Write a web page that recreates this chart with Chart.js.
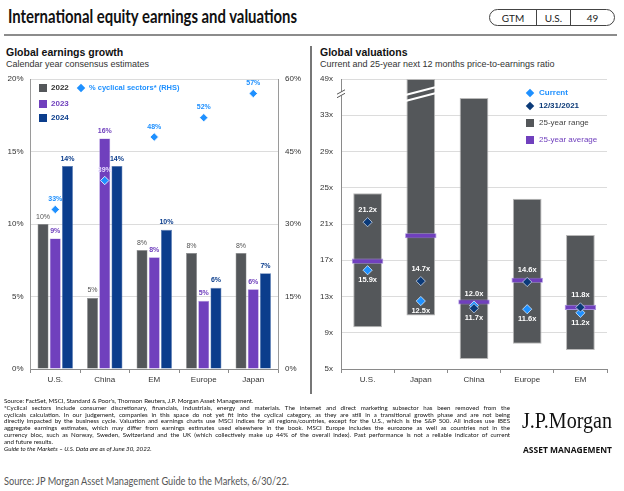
<!DOCTYPE html>
<html><head><meta charset="utf-8">
<script src="https://cdn.jsdelivr.net/npm/chart.js@4.4.0/dist/chart.umd.min.js"></script>
<style>
html,body{margin:0;padding:0;background:#fff;}
body{width:624px;height:491px;position:relative;overflow:hidden;font-family:"Liberation Sans",Arial,sans-serif;}
.abs{position:absolute;white-space:nowrap;}
.fit{display:inline-block;transform-origin:0 50%;}
.sq{position:absolute;width:8px;height:8px;}
.dia{position:absolute;width:6px;height:6px;transform:rotate(45deg);}
.lg{position:absolute;white-space:nowrap;font-size:8px;font-weight:bold;line-height:10px;}
#pill{position:absolute;left:489px;top:9px;width:126px;height:17px;border:1px solid #444;border-radius:10px;display:flex;font-family:Lato,sans-serif;font-size:10px;color:#222;box-sizing:border-box;}
#pill div{display:flex;align-items:center;justify-content:center;height:100%;}
.fn{position:absolute;left:4px;white-space:nowrap;font-family:Lato,sans-serif;color:#111;line-height:7px;transform-origin:0 50%;}
canvas{position:absolute;}
</style></head><body>

<div class="abs" style="left:8px;top:5px;"><span id="title" class="fit" style="font-family:Lato,sans-serif;font-weight:bold;font-size:19px;color:#111;line-height:22px;">International equity earnings and valuations</span></div>
<div id="pill"><div style="width:46px;border-right:1px solid #444;">GTM</div><div style="width:33px;border-right:1px solid #444;">U.S.</div><div style="flex:1;">49</div></div>
<div class="abs" style="left:4px;top:34px;width:613px;height:2px;background:#8c8c8c;"></div>

<div class="abs" style="left:6px;top:46px;font-size:10.5px;font-weight:bold;color:#111;">Global earnings growth</div>
<div class="abs" style="left:6px;top:59px;font-size:9px;color:#333;">Calendar year consensus estimates</div>
<div class="abs" style="left:320px;top:46px;font-size:10.5px;font-weight:bold;color:#111;">Global valuations</div>
<div class="abs" style="left:320px;top:59px;font-size:9px;color:#333;">Current and 25-year next 12 months price-to-earnings ratio</div>
<div class="abs" style="left:310px;top:46px;width:1.5px;height:348px;background:#777;"></div>

<canvas id="left" width="310" height="340" style="left:0;top:60px;"></canvas>
<canvas id="right" width="312" height="340" style="left:312px;top:60px;"></canvas>

<!-- left legend -->
<div class="sq" style="left:39px;top:84px;background:#54575a;"></div>
<div class="lg" style="left:51px;top:83px;color:#333;">2022</div>
<div class="sq" style="left:39px;top:100px;background:#7040bd;"></div>
<div class="lg" style="left:51px;top:99px;color:#7040bd;">2023</div>
<div class="sq" style="left:39px;top:114px;background:#0b3d8c;"></div>
<div class="lg" style="left:51px;top:113px;color:#0b3d8c;">2024</div>
<div class="dia" style="left:77.5px;top:85px;background:#1e90ff;"></div>
<div class="lg" style="left:89px;top:83px;color:#1e90ff;font-size:7.5px;">% cyclical sectors* (RHS)</div>

<!-- right legend -->
<div class="dia" style="left:526.5px;top:89.5px;background:#1e90ff;"></div>
<div class="lg" style="left:539px;top:87.5px;color:#1e90ff;">Current</div>
<div class="dia" style="left:526.5px;top:103px;background:#0b3a78;"></div>
<div class="lg" style="left:539px;top:101px;color:#0b3a78;">12/31/2021</div>
<div class="sq" style="left:526px;top:119px;background:#54575a;"></div>
<div class="lg" style="left:539px;top:118px;color:#444;font-weight:normal;">25-year range</div>
<div class="sq" style="left:526px;top:136px;background:#7040bd;"></div>
<div class="lg" style="left:539px;top:135px;color:#7040bd;font-weight:normal;">25-year average</div>

<!-- footnotes -->
<div id="fnbox"></div>
<div class="abs" style="left:522px;top:408px;"><span id="jpm" class="fit" style="font-family:'Liberation Serif',serif;font-size:23px;color:#111;line-height:25px;">J.P.Morgan</span></div>
<div class="abs" style="left:523px;top:439px;"><span id="am" class="fit" style="font-family:'Open Sans',sans-serif;font-weight:700;font-size:9.5px;color:#111;line-height:11px;">ASSET MANAGEMENT</span></div>
<div class="abs" style="left:4px;top:471px;"><span id="src" class="fit" style="font-family:Lato,sans-serif;font-size:10.5px;color:#555;line-height:12px;">Source: JP Morgan Asset Management Guide to the Markets, 6/30/22.</span></div>

<script>
// ---------------- DATA ----------------
const regions = ['U.S.', 'China', 'EM', 'Europe', 'Japan'];
const eps2022 = [10.0, 4.9, 8.2, 8.0, 8.0];
const eps2023 = [9.0, 15.9, 7.7, 4.7, 5.5];
const eps2024 = [14.0, 14.0, 9.6, 5.6, 6.6];
const cyclicalPct = [33, 39, 48, 52, 57];
const lhsTicks = [0, 5, 10, 15, 20];
const rhsTicks = [0, 15, 30, 45, 60];

const valRegions = ['U.S.', 'Japan', 'China', 'Europe', 'EM'];
const rangeLow = [9.6, 10.9, 6.1, 7.8, 7.1];
const rangeHigh = [24.4, 49, 34.9, 23.8, 19.8];
const avg25 = [16.9, 19.7, 12.4, 14.8, 11.8];
const currentPE = [15.9, 12.5, 12.0, 11.6, 11.2];
const dec2021PE = [21.2, 14.7, 11.7, 14.6, 11.8];
const peTicks = [5, 9, 13, 17, 21, 25, 29, 33, 37];
const peTickLabels = ['5x', '9x', '13x', '17x', '21x', '25x', '29x', '33x', '49x'];
const peAxisTop = 37;      // axis break: top gridline stands for 49x
const dec2021LabelPos = ['above', 'above', 'below', 'above', 'above'];
const currentLabelPos = ['below', 'below', 'above', 'below', 'below'];

const footnotes = [
  "Source: FactSet, MSCI, Standard & Poor's, Thomson Reuters, J.P. Morgan Asset Management.",
  "*Cyclical sectors include consumer discretionary, financials, industrials, energy and materials. The internet and direct marketing subsector has been removed from the",
  "cyclicals calculation. In our judgement, companies in this space do not yet fit into the cyclical category, as they are still in a transitional growth phase and are not being",
  "directly impacted by the business cycle. Valuation and earnings charts use MSCI indices for all regions/countries, except for the U.S., which is the S&P 500. All indices use IBES",
  "aggregate earnings estimates, which may differ from earnings estimates used elsewhere in the book. MSCI Europe includes the eurozone as well as countries not in the",
  "currency bloc, such as Norway, Sweden, Switzerland and the UK (which collectively make up 44% of the overall index). Past performance is not a reliable indicator of current",
  "and future results.",
  "Guide to the Markets \u2013 U.S. Data are as of June 30, 2022."
];

// ---------------- COLOURS ----------------
const C22 = '#54575a', C23 = '#7040bd', C24 = '#0b3d8c', CLB = '#1e90ff', CNAVY = '#0b3a78';
const FONT = '"Liberation Sans", Arial, sans-serif';

function labelPlugin(id, specs) {
  return {
    id,
    afterDatasetsDraw(chart) {
      const ctx = chart.ctx;
      specs.forEach(s => {
        const meta = chart.getDatasetMeta(s.ds);
        const data = chart.data.datasets[s.ds].data;
        meta.data.forEach((el, j) => {
          const v = data[j];
          ctx.save();
          ctx.font = s.font;
          ctx.fillStyle = Array.isArray(s.color) ? s.color[j] : s.color;
          ctx.textAlign = 'center';
          ctx.textBaseline = s.baseline || 'alphabetic';
          const dy = typeof s.dy === 'function' ? s.dy(j) : s.dy;
          ctx.fillText(s.text(v), el.x, el.y + dy);
          ctx.restore();
        });
      });
    }
  };
}

// ---------------- LEFT CHART ----------------
const pct = v => Math.round(v) + '%';
new Chart(document.getElementById('left'), {
  type: 'bar',
  data: {
    labels: regions,
    datasets: [
      { label: '2022', data: eps2022, backgroundColor: C22, borderColor: '#8a8c8e', borderWidth: 0.6, order: 1, yAxisID: 'y' },
      { label: '2023', data: eps2023, backgroundColor: C23, borderColor: '#a788dc', borderWidth: 0.6, order: 1, yAxisID: 'y' },
      { label: '2024', data: eps2024, backgroundColor: C24, borderColor: '#5577b0', borderWidth: 0.6, order: 1, yAxisID: 'y' },
      { type: 'line', label: '% cyclical sectors* (RHS)', data: cyclicalPct, yAxisID: 'y1', showLine: false,
        pointStyle: 'rectRot', pointRadius: 4.2, pointBackgroundColor: CLB, pointBorderColor: '#ffffff', pointBorderWidth: 0.8, order: 0 }
    ]
  },
  options: {
    responsive: false, animation: false, devicePixelRatio: 1,
    layout: { padding: { top: 19, left: 0.5, right: 0, bottom: 0 } },
    datasets: { bar: { categoryPercentage: 0.74, barPercentage: 0.9 } },
    plugins: { legend: { display: false }, tooltip: { enabled: false } },
    scales: {
      x: {
        grid: { display: true, drawOnChartArea: false, drawTicks: true, tickLength: 4, color: '#8a8a8a', offset: true },
        border: { display: true, color: '#8a8a8a', width: 1 },
        ticks: { font: { family: FONT, size: 8 }, color: '#333', padding: 2, autoSkip: false, maxRotation: 0 },
        afterFit: s => { s.height = 31; }
      },
      y: {
        position: 'left', min: 0, max: 20,
        afterBuildTicks: s => { s.ticks = lhsTicks.map(v => ({ value: v })); },
        grid: { color: '#dcdcdc', drawTicks: false },
        border: { display: true, color: '#9a9a9a', width: 1 },
        ticks: { font: { family: FONT, size: 8 }, color: '#333', padding: 7, callback: v => v + '%' },
        afterFit: s => { s.width = 30; }
      },
      y1: {
        position: 'right', min: 0, max: 60,
        afterBuildTicks: s => { s.ticks = rhsTicks.map(v => ({ value: v })); },
        grid: { drawOnChartArea: false, drawTicks: false },
        border: { display: true, color: '#9a9a9a', width: 1 },
        ticks: { font: { family: FONT, size: 8 }, color: '#333', padding: 7, callback: v => v + '%' },
        afterFit: s => { s.width = 32; }
      }
    }
  },
  plugins: [labelPlugin('lblLeft', [
    { ds: 0, text: pct, font: 'normal 7px ' + FONT, color: '#555', dy: -5.5 },
    { ds: 1, text: pct, font: 'bold 7px ' + FONT, color: C23, dy: -5.5 },
    { ds: 2, text: pct, font: 'bold 7px ' + FONT, color: C24, dy: -5.5 },
    { ds: 3, text: v => v + '%', font: 'bold 7px ' + FONT, color: [CLB, '#e6dcff', CLB, CLB, CLB], dy: -8.5 }
  ])]
});

// ---------------- RIGHT CHART ----------------
const onAxis = v => Math.min(v, peAxisTop);
const xfmt = v => v.toFixed(1) + 'x';
const breakPlugin = {
  id: 'axisBreak',
  afterDatasetsDraw(chart) {
    const ctx = chart.ctx, ys = chart.scales.y;
    const yb = ys.getPixelForValue(35.4);
    const bar = chart.getDatasetMeta(2).data[1];
    const x0 = bar.x - bar.width / 2, x1 = bar.x + bar.width / 2;
    ctx.save();
    ctx.strokeStyle = '#ffffff'; ctx.lineWidth = 2;
    [[1.5, -6.5], [7.5, -0.5]].forEach(([a, b]) => {
      ctx.beginPath(); ctx.moveTo(x0 - 1, yb + a); ctx.lineTo(x1 + 1, yb + b); ctx.stroke();
    });
    const ax = ys.right;
    ctx.fillStyle = '#ffffff';
    ctx.fillRect(ax - 2, yb - 2, 4, 4);
    ctx.strokeStyle = '#555'; ctx.lineWidth = 1;
    [[-1.5], [2]].forEach(([o]) => {
      ctx.beginPath(); ctx.moveTo(ax - 4, yb + o + 2.2); ctx.lineTo(ax + 4, yb + o - 2.2); ctx.stroke();
    });
    ctx.restore();
  }
};

new Chart(document.getElementById('right'), {
  type: 'bar',
  data: {
    labels: valRegions,
    datasets: [
      { type: 'line', label: '12/31/2021', data: dec2021PE, showLine: false, pointStyle: 'rectRot', pointRadius: 4.6,
        pointBackgroundColor: CNAVY, pointBorderColor: '#c8d4e8', pointBorderWidth: 0.8, order: 0 },
      { type: 'line', label: 'Current', data: currentPE, showLine: false, pointStyle: 'rectRot', pointRadius: 4.6,
        pointBackgroundColor: CLB, pointBorderColor: '#d8ecff', pointBorderWidth: 0.8, order: 1 },
      { label: '25-year range', data: rangeLow.map((lo, i) => [lo, onAxis(rangeHigh[i])]),
        backgroundColor: C22, borderColor: '#b8b8b8', borderWidth: 1, borderSkipped: false,
        barPercentage: 0.54, categoryPercentage: 1, grouped: false, order: 3 },
      { label: '25-year average', data: avg25.map(a => [a - 0.28, a + 0.28]),
        backgroundColor: C23, borderColor: '#a78ee0', borderWidth: 0.8, borderSkipped: false,
        barPercentage: 0.59, categoryPercentage: 1, grouped: false, order: 2 }
    ]
  },
  options: {
    responsive: false, animation: false, devicePixelRatio: 1,
    layout: { padding: { top: 19, left: 0, right: 17, bottom: 0 } },
    plugins: { legend: { display: false }, tooltip: { enabled: false } },
    scales: {
      x: {
        grid: { display: true, drawOnChartArea: false, drawTicks: true, tickLength: 4, color: '#8a8a8a', offset: true },
        border: { display: true, color: '#8a8a8a', width: 1 },
        ticks: { font: { family: FONT, size: 8 }, color: '#333', padding: 2, autoSkip: false, maxRotation: 0 },
        afterFit: s => { s.height = 31; }
      },
      y: {
        min: 5, max: peAxisTop,
        afterBuildTicks: s => { s.ticks = peTicks.map(v => ({ value: v })); },
        grid: { color: '#dcdcdc', drawTicks: false },
        border: { display: true, color: '#8a8a8a', width: 1 },
        ticks: { font: { family: FONT, size: 8 }, color: '#333', padding: 8,
          callback: v => peTickLabels[peTicks.indexOf(v)] },
        afterFit: s => { s.width = 29; }
      }
    }
  },
  plugins: [labelPlugin('lblRight', [
    { ds: 0, text: xfmt, font: 'bold 7.5px ' + FONT, color: '#ffffff', baseline: 'middle',
      dy: j => dec2021LabelPos[j] === 'above' ? -12 : 10 },
    { ds: 1, text: xfmt, font: 'bold 7.5px ' + FONT, color: '#ffffff', baseline: 'middle',
      dy: j => currentLabelPos[j] === 'above' ? -12 : 10 }
  ]), breakPlugin]
});

// ---------------- FOOTNOTES & TEXT FITTING ----------------
const fnbox = document.getElementById('fnbox');
const fnEls = footnotes.map((t, i) => {
  const d = document.createElement('div');
  d.className = 'fn';
  d.textContent = t;
  d.style.top = (397 + i * 6.8) + 'px';
  d.style.fontSize = '10px';
  if (i === 7) d.style.fontStyle = 'italic';
  fnbox.appendChild(d);
  return d;
});

function fitWidth(el, w) {
  el.style.transform = 'none';
  const r = el.getBoundingClientRect().width;
  if (r > 0) el.style.transform = 'scaleX(' + (w / r) + ')';
}
function layoutText() {
  fitWidth(document.getElementById('title'), 289);
  fitWidth(document.getElementById('jpm'), 90);
  fitWidth(document.getElementById('am'), 89);
  fitWidth(document.getElementById('src'), 285);
  fnEls.forEach(e => { e.style.fontSize = '10px'; e.style.wordSpacing = '0px'; e.style.transform = 'none'; });
  const w0 = fnEls[0].getBoundingClientRect().width;
  const fs = 10 * 250 / w0;
  fnEls.forEach(e => e.style.fontSize = fs + 'px');
  [1, 2, 3, 4, 5].forEach(i => {
    const e = fnEls[i];
    const w = e.getBoundingClientRect().width;
    const spaces = (e.textContent.match(/ /g) || []).length;
    const ws = (506 - w) / spaces;
    if (ws >= 0) e.style.wordSpacing = ws + 'px';
    else e.style.transform = 'scaleX(' + (506 / w) + ')';
  });
}
layoutText();
if (document.fonts && document.fonts.ready) document.fonts.ready.then(layoutText);
</script>
</body></html>
